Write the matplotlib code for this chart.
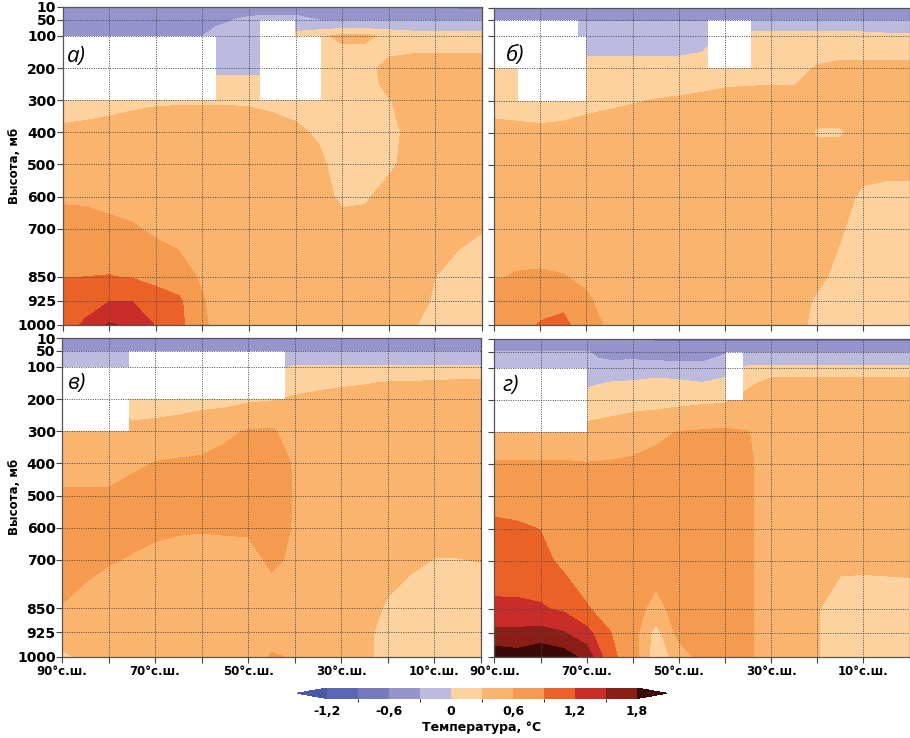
import numpy as np
import matplotlib
matplotlib.use("Agg")
import matplotlib.pyplot as plt
from matplotlib.colors import ListedColormap, BoundaryNorm

plt.rcParams['font.family'] = ['DejaVu Sans']

# ---------------- data ----------------
lats = [90, 85, 80, 75, 70, 65, 60, 55, 50, 45, 40, 35, 30, 25, 20, 15, 10, 5, 0]
pressure = [10, 30, 50, 70, 100, 150, 200, 250, 300, 400, 500, 600, 700, 850, 925, 1000]

panel_a = [
    [-0.45]*17 + [-0.68, -0.7],
    [-0.45, -0.45, -0.45, -0.45, -0.45, -0.45, -0.45, -0.42, -0.38, -0.36, -0.36, -0.42, -0.42, -0.42, -0.42, -0.42, -0.42, -0.45, -0.45],
    [-0.45]*6 + [-0.42, -0.36, -0.2, -0.15, -0.15] + [-0.31]*8,
    [-0.45]*6 + [-0.38, -0.25, -0.15, -0.15, -0.12] + [-0.12]*8,
    [-0.45]*6 + [-0.3, -0.18, -0.15, -0.15, 0.1, 0.2, 0.4, 0.38, 0.2, 0.12, 0.12, 0.12, 0.12],
    [-0.45]*6 + [-0.2, -0.12, -0.12, -0.12, 0.15, 0.15, 0.2, 0.2, 0.25, 0.28, 0.28, 0.28, 0.28],
    [0.2]*6 + [-0.1, -0.08, -0.08, -0.08, 0.15, 0.15, 0.15, 0.2, 0.4, 0.45, 0.45, 0.45, 0.45],
    [0.2]*6 + [0.1, 0.1, 0.1, 0.1, 0.15, 0.15, 0.15, 0.15, 0.4, 0.45, 0.45, 0.45, 0.45],
    [0.22, 0.23, 0.24, 0.25, 0.26, 0.27, 0.27, 0.27, 0.27, 0.25, 0.22, 0.15, 0.15, 0.15, 0.28, 0.45, 0.45, 0.45, 0.45],
    [0.33, 0.34, 0.36, 0.4, 0.45, 0.45, 0.45, 0.45, 0.42, 0.38, 0.34, 0.27, 0.15, 0.15, 0.2, 0.4, 0.45, 0.45, 0.45],
    [0.45]*11 + [0.35, 0.2, 0.15, 0.22, 0.45, 0.45, 0.45, 0.45],
    [0.55, 0.54, 0.5, 0.48, 0.45, 0.45, 0.45, 0.45, 0.45, 0.45, 0.45, 0.45, 0.22, 0.25, 0.45, 0.45, 0.45, 0.45, 0.45],
    [0.75, 0.73, 0.68, 0.63, 0.55, 0.5, 0.45, 0.45, 0.45, 0.45, 0.45, 0.45, 0.45, 0.45, 0.45, 0.45, 0.45, 0.36, 0.31],
    [0.89, 0.9, 0.91, 0.88, 0.8, 0.72, 0.56, 0.45, 0.45, 0.45, 0.45, 0.45, 0.45, 0.45, 0.45, 0.45, 0.3, 0.22, 0.2],
    [1.1, 1.15, 1.19, 1.19, 1.05, 0.95, 0.62, 0.45, 0.45, 0.45, 0.45, 0.45, 0.45, 0.45, 0.45, 0.45, 0.25, 0.18, 0.15],
    [1.15, 1.22, 1.53, 1.45, 1.18, 0.98, 0.65, 0.45, 0.45, 0.45, 0.45, 0.45, 0.45, 0.45, 0.45, 0.33, 0.2, 0.15, 0.15],
]

panel_b = [
    [-0.45]*19,
    [-0.45]*19,
    [-0.32]*19,
    [-0.2]*10 + [-0.15] + [-0.12]*8,
    [-0.15]*10 + [0.05, 0.1, 0.1, 0.1, 0.1, 0.1, 0.1, 0.06, 0.05],
    [-0.05]*5 + [-0.06, -0.06, -0.06, -0.05, 0.0, 0.15, 0.15, 0.15, 0.15, 0.2, 0.2, 0.2, 0.2, 0.2],
    [0.15]*13 + [0.18, 0.33, 0.4, 0.4, 0.4, 0.4],
    [0.15, 0.16, 0.16, 0.17, 0.18, 0.19, 0.2, 0.2, 0.2, 0.22, 0.26, 0.28, 0.29, 0.29, 0.45, 0.45, 0.45, 0.45, 0.45],
    [0.2, 0.2, 0.2, 0.2, 0.22, 0.24, 0.28, 0.31, 0.34, 0.38, 0.45, 0.45, 0.45, 0.45, 0.45, 0.45, 0.45, 0.45, 0.45],
    [0.375, 0.354, 0.339, 0.354, 0.4, 0.45, 0.45, 0.45, 0.45, 0.45, 0.45, 0.45, 0.45, 0.45, 0.27, 0.27, 0.45, 0.45, 0.45],
    [0.45]*19,
    [0.45]*16 + [0.22, 0.15, 0.15],
    [0.45]*15 + [0.34, 0.15, 0.15, 0.15],
    [0.58, 0.62, 0.63, 0.61, 0.55, 0.45, 0.45, 0.45, 0.45, 0.45, 0.45, 0.45, 0.45, 0.45, 0.38, 0.2, 0.15, 0.15, 0.15],
    [0.75, 0.8, 0.85, 0.82, 0.64, 0.5, 0.45, 0.45, 0.45, 0.45, 0.45, 0.45, 0.45, 0.45, 0.25, 0.15, 0.15, 0.15, 0.15],
    [0.78, 0.85, 0.91, 0.98, 0.72, 0.55, 0.45, 0.45, 0.45, 0.45, 0.45, 0.45, 0.45, 0.42, 0.2, 0.15, 0.15, 0.15, 0.15],
]

panel_v = [
    [-0.45]*19,
    [-0.45]*19,
    [-0.32]*19,
    [-0.15]*19,
    [-0.1]*10 + [0.03]*9,
    [0.15]*10 + [0.2, 0.2, 0.24, 0.28, 0.32, 0.33, 0.35, 0.37, 0.38],
    [0.2]*8 + [0.25, 0.28, 0.33, 0.4, 0.45, 0.45, 0.45, 0.45, 0.45, 0.45, 0.45],
    [0.45, 0.45, 0.45, 0.22, 0.26, 0.3, 0.34, 0.38, 0.45, 0.45, 0.45, 0.45, 0.45, 0.45, 0.45, 0.45, 0.45, 0.45, 0.45],
    [0.45]*7 + [0.55, 0.62, 0.63, 0.5] + [0.45]*8,
    [0.45, 0.45, 0.45, 0.55, 0.61, 0.63, 0.65, 0.68, 0.7, 0.7, 0.58] + [0.45]*8,
    [0.65, 0.65, 0.65, 0.7, 0.72, 0.72, 0.72, 0.72, 0.72, 0.72, 0.58] + [0.45]*8,
    [0.68, 0.68, 0.67, 0.68, 0.66, 0.63, 0.62, 0.63, 0.64, 0.7, 0.58] + [0.45]*8,
    [0.65, 0.66, 0.62, 0.58, 0.52, 0.5, 0.5, 0.5, 0.5, 0.65, 0.55, 0.45, 0.45, 0.45, 0.45, 0.36, 0.29, 0.29, 0.31],
    [0.595, 0.53, 0.45, 0.45, 0.45, 0.45, 0.45, 0.45, 0.45, 0.45, 0.45, 0.45, 0.45, 0.45, 0.25, 0.15, 0.15, 0.15, 0.15],
    [0.45, 0.45, 0.45, 0.45, 0.45, 0.45, 0.45, 0.45, 0.45, 0.5, 0.48, 0.45, 0.45, 0.4, 0.15, 0.15, 0.15, 0.15, 0.15],
    [0.25, 0.35, 0.45, 0.45, 0.45, 0.45, 0.45, 0.45, 0.45, 0.62, 0.58, 0.45, 0.45, 0.4, 0.15, 0.15, 0.15, 0.15, 0.15],
]

panel_g = [
    [-0.5]*7 + [-0.7]*12,
    [-0.45]*19,
    [-0.29, -0.29, -0.29, -0.29, -0.29, -0.38, -0.38, -0.38, -0.38, -0.38, -0.33, -0.32, -0.32, -0.32, -0.32, -0.32, -0.32, -0.32, -0.32],
    [-0.2, -0.2, -0.2, -0.2, -0.28, -0.32, -0.32, -0.33, -0.35, -0.35, -0.25, -0.15, -0.15, -0.15, -0.15, -0.15, -0.15, -0.15, -0.15],
    [-0.15, -0.15, -0.15, -0.15, -0.15, -0.22, -0.2, -0.2, -0.22, -0.22, -0.15, 0.05, 0.05, 0.05, 0.05, 0.05, 0.05, 0.05, 0.05],
    [-0.05, -0.05, -0.05, -0.05, -0.05, 0.03, 0.05, 0.12, 0.08, 0.02, 0.1, 0.22, 0.45, 0.45, 0.45, 0.45, 0.45, 0.45, 0.45],
    [0.15, 0.15, 0.15, 0.15, 0.15, 0.18, 0.2, 0.22, 0.22, 0.25, 0.26, 0.45, 0.45, 0.45, 0.45, 0.45, 0.45, 0.45, 0.45],
    [0.22, 0.22, 0.22, 0.22, 0.22, 0.29, 0.33, 0.35, 0.4, 0.42, 0.45, 0.45, 0.45, 0.45, 0.45, 0.45, 0.45, 0.45, 0.45],
    [0.45, 0.45, 0.45, 0.45, 0.45, 0.45, 0.45, 0.54, 0.61, 0.63, 0.65, 0.61, 0.45, 0.45, 0.45, 0.45, 0.45, 0.45, 0.45],
    [0.62, 0.62, 0.62, 0.62, 0.61, 0.62, 0.65, 0.68, 0.7, 0.7, 0.7, 0.65, 0.45, 0.45, 0.45, 0.45, 0.45, 0.45, 0.45],
    [0.72, 0.7, 0.7, 0.7, 0.7, 0.7, 0.7, 0.7, 0.7, 0.7, 0.7, 0.65, 0.45, 0.45, 0.45, 0.45, 0.45, 0.45, 0.45],
    [1.0, 0.96, 0.89, 0.78, 0.72, 0.7, 0.7, 0.7, 0.7, 0.7, 0.7, 0.65, 0.45, 0.45, 0.45, 0.45, 0.45, 0.45, 0.45],
    [1.08, 1.07, 1.0, 0.82, 0.75, 0.72, 0.72, 0.75, 0.72, 0.7, 0.7, 0.65, 0.45, 0.45, 0.45, 0.37, 0.36, 0.37, 0.38],
    [1.24, 1.24, 1.23, 1.15, 0.92, 0.8, 0.72, 0.5, 0.72, 0.7, 0.7, 0.65, 0.45, 0.45, 0.32, 0.15, 0.15, 0.15, 0.15],
    [1.58, 1.58, 1.6, 1.52, 1.3, 0.91, 0.74, 0.18, 0.7, 0.7, 0.7, 0.65, 0.45, 0.45, 0.32, 0.15, 0.15, 0.15, 0.15],
    [1.98, 1.92, 2.05, 1.95, 1.7, 0.98, 0.74, 0.12, 0.42, 0.72, 0.7, 0.65, 0.45, 0.45, 0.32, 0.15, 0.15, 0.15, 0.15],
]

# missing-data regions: (lat_north, lat_south, p_top, p_bottom)
missing_a = [(90, 57, 100, 300), (47.6, 40.2, 50, 300), (40.2, 34.6, 100, 300)]
missing_b = [(90, 71.8, 50, 100), (90, 70, 100, 200), (84.8, 70, 200, 300), (43.6, 34.3, 50, 200)]
missing_v = [(90, 75.7, 100, 300), (75.7, 42.1, 50, 200)]
missing_g = [(90, 70, 100, 300), (39.8, 36.2, 50, 200)]

panel_labels = ['а)', 'б)', 'в)', 'г)']
levels = [-1.2, -0.9, -0.6, -0.3, 0.0, 0.3, 0.6, 0.9, 1.2, 1.5, 1.8]
cbar_ticks = [-1.2, -0.6, 0.0, 0.6, 1.2, 1.8]
cbar_ticklabels = ['-1,2', '-0,6', '0', '0,6', '1,2', '1,8']
ytick_vals = [10, 50, 100, 200, 300, 400, 500, 600, 700, 850, 925, 1000]
xtick_vals = [90, 80, 70, 60, 50, 40, 30, 20, 10, 0]
xlabel_map = {90: '90°с.ш.', 70: '70°с.ш.', 50: '50°с.ш.', 30: '30°с.ш.', 10: '10°с.ш.'}

inner_colors = ['#5a67b4', '#7579be', '#9594cc', '#bcbbdf', '#fdd29e',
                '#fab46d', '#f49b50', '#ec6126', '#c92d2a', '#8b1d17']
under_color = '#4a5aa8'
over_color = '#3c0a06'

cmap = ListedColormap(inner_colors)
cmap.set_under(under_color)
cmap.set_over(over_color)
norm = BoundaryNorm(levels, cmap.N)

W, H = 910, 738
fig = plt.figure(figsize=(W/100, H/100), dpi=100)

def frac(x0, y0, x1, y1):
    return [x0/W, 1 - y1/H, (x1-x0)/W, (y1-y0)/H]

boxes = [frac(62.5, 7, 482, 325), frac(494, 7.5, 909.5, 325),
         frac(62, 338, 481, 656.5), frac(494.5, 339, 909.5, 657)]
label_pos = [(0.011, 0.843), (0.029, 0.849), (0.014, 0.857), (0.02, 0.854)]
panels = [panel_a, panel_b, panel_v, panel_g]
missing = [missing_a, missing_b, missing_v, missing_g]

grid_color = '#4a4a4a'
cf = None
for i in range(4):
    ax = fig.add_axes(boxes[i])
    Z = np.array(panels[i], dtype=float)
    cf = ax.contourf(lats, pressure, Z, levels=levels, cmap=cmap, norm=norm,
                     extend='both', zorder=1)
    for (ln, ls, pt, pb) in missing[i]:
        ax.fill_between([ls, ln], [pt, pt], [pb, pb], color='white',
                        linewidth=0, zorder=2)
    ax.set_xlim(90, 0)
    ax.set_ylim(1000, 10)
    ax.set_axisbelow(False)
    ax.set_yticks(ytick_vals)
    ax.set_xticks(xtick_vals)
    ax.grid(True, color=grid_color, linestyle=(0, (1, 1.4)), linewidth=0.7, zorder=3)
    for s in ax.spines.values():
        s.set_color('#555555')
        s.set_linewidth(0.9)
        s.set_zorder(4)
    ax.tick_params(axis='x', direction='out', length=4, width=0.8, color='#444444',
                   labelsize=8.5, pad=2)
    ax.tick_params(axis='y', direction='out', length=4, width=0.8, color='#444444',
                   labelsize=10, pad=0.5)
    if i in (0, 2):
        ax.set_yticklabels([str(v) for v in ytick_vals], fontweight='bold')
        ax.set_ylabel('Высота, мб', fontweight='bold', fontsize=8.5)
        ax.yaxis.set_label_coords(-0.099, 0.5)
    else:
        ax.set_yticklabels([])
    if i in (2, 3):
        ax.set_xticklabels([xlabel_map.get(v, '') for v in xtick_vals],
                           fontweight='bold')
    else:
        ax.set_xticklabels([])
    ax.text(label_pos[i][0], label_pos[i][1], panel_labels[i],
            transform=ax.transAxes, fontsize=16, style='italic',
            family=['Open Sans', 'DejaVu Sans'],
            ha='left', va='center', zorder=5)

cax = fig.add_axes(frac(297, 688, 667, 698.5))
cb = fig.colorbar(cf, cax=cax, orientation='horizontal', ticks=cbar_ticks,
                  extendfrac=0.097)
cb.outline.set_visible(False)
cb.ax.tick_params(length=0, labelsize=9, pad=5)
cb.ax.set_xticklabels(cbar_ticklabels, fontweight='bold')
cb.set_label('Температура, °C', fontweight='bold', fontsize=9, labelpad=2)

fig.savefig('out.png', dpi=100)
